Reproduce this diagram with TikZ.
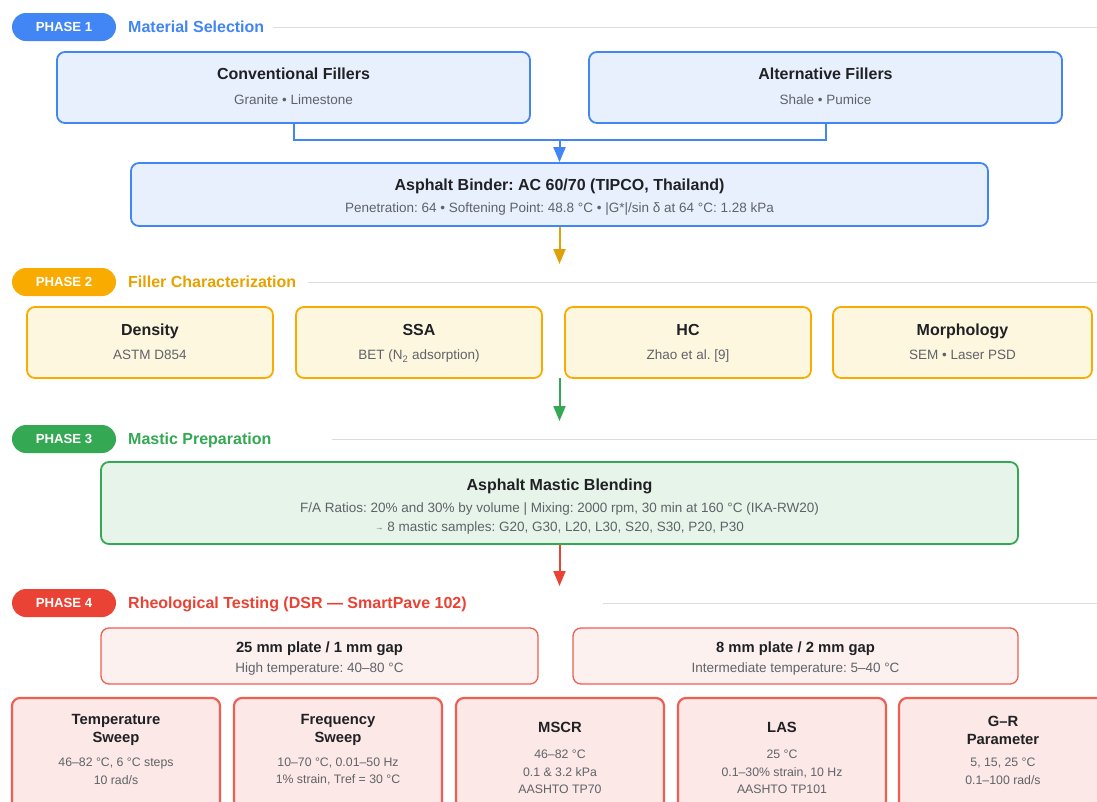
\documentclass[tikz,border=0pt]{standalone}
\usepackage{fontspec}
\setmainfont{Liberation Sans}
\usetikzlibrary{arrows.meta}
\frenchspacing
\definecolor{blueC}{HTML}{4285F4}
\definecolor{blueFill}{HTML}{E8F0FE}
\definecolor{orangeC}{HTML}{F9AB00}
\definecolor{orangeT}{HTML}{E8A200}
\definecolor{orangeA}{HTML}{E0A008}
\definecolor{orangeFill}{HTML}{FEF7E0}
\definecolor{greenC}{HTML}{34A853}
\definecolor{greenFill}{HTML}{E6F4EA}
\definecolor{redC}{HTML}{EA4335}
\definecolor{redFill}{HTML}{FCE8E6}
\definecolor{redFillL}{HTML}{FDF1F0}
\definecolor{darkT}{HTML}{202124}
\definecolor{grayT}{HTML}{5F6368}
\definecolor{ruleC}{HTML}{DADCE0}
\tikzset{
  pill/.style={rounded corners=14pt, minimum width=104pt, minimum height=28pt, inner sep=0pt, text=white, text height=9.5pt, text depth=0pt, font=\bfseries\fontsize{13.2}{15}\selectfont},
  phtitle/.style={anchor=west, inner sep=0pt, text height=11.5pt, text depth=0pt, font=\bfseries\fontsize{16}{19}\selectfont},
  rulel/.style={draw=ruleC, line width=1pt},
  box/.style={draw, rounded corners=8pt, line width=1.8pt, inner sep=0pt},
  ttl/.style={inner sep=0pt, text=darkT, text height=11.5pt, text depth=0pt, font=\bfseries\fontsize{16}{19}\selectfont},
  sub/.style={inner sep=0pt, text=grayT, text height=9.7pt, text depth=0pt, font=\fontsize{13.5}{16}\selectfont},
  ttls/.style={inner sep=0pt, text=darkT, align=center, font=\bfseries\fontsize{14.8}{18}\selectfont},
  subs/.style={inner sep=0pt, text=grayT, align=center, font=\fontsize{12.3}{17.5}\selectfont},
  conn/.style={line width=2pt},
  arr/.style={line width=2pt, -{Triangle[length=15pt,width=12pt]}},
}
\begin{document}
\begin{tikzpicture}[x=1pt,y=-1pt]
\fill[white] (0,0) rectangle (1097,801);
\clip (0,0) rectangle (1097,801);
\useasboundingbox (0,0) rectangle (1097,801);

% ---------- Phase 1
\node[pill, fill=blueC] (p1) at (64,27) {PHASE 1};
\node[phtitle, text=blueC] (t1) at (128,27) {Material Selection};
\coordinate (r1s) at (273,27); \coordinate (r1e) at (1097,27);
\draw[rulel] (r1s) -- (r1e);

\node[box, draw=blueC, fill=blueFill, minimum width=473pt, minimum height=71pt] (conv) at (293.5,87.5) {};
\node[ttl] (convT) at (293.5,74) {Conventional Fillers};
\node[sub] (convS) at (293.5,100) {Granite • Limestone};

\node[box, draw=blueC, fill=blueFill, minimum width=473pt, minimum height=71pt] (alt) at (825.5,87.5) {};
\node[ttl] (altT) at (825.5,74) {Alternative Fillers};
\node[sub] (altS) at (825.5,100) {Shale • Pumice};

\node[box, draw=blueC, fill=blueFill, minimum width=857pt, minimum height=63pt] (binder) at (559.5,194.5) {};
\node[ttl] (binderT) at (559.5,185) {Asphalt Binder: AC 60/70 (TIPCO, Thailand)};
\node[sub] (binderS) at (559.5,208) {Penetration: 64 • Softening Point: 48.8 °C • |G*|/sin δ at 64 °C: 1.28 kPa};

\coordinate (j1) at (559.5,140);
\draw[conn, draw=blueC] (conv.south) |- (j1);
\draw[conn, draw=blueC] (alt.south) |- (j1);
\draw[arr, draw=blueC, fill=blueC] (j1) -- (binder.north);

\coordinate (j2) at (559.5,264);
\draw[arr, draw=orangeA, fill=orangeA] (binder.south) -- (j2);

% ---------- Phase 2
\node[pill, fill=orangeC] (p2) at (64,282) {PHASE 2};
\node[phtitle, text=orangeT] (t2) at (128,282) {Filler Characterization};
\coordinate (r2s) at (308,282); \coordinate (r2e) at (1097,282);
\draw[rulel] (r2s) -- (r2e);

\node[box, draw=orangeC, fill=orangeFill, minimum width=246pt, minimum height=71pt] (dens) at (150,342.5) {};
\node[ttl] (densT) at (150,330) {Density};
\node[sub] (densS) at (150,355) {ASTM D854};

\node[box, draw=orangeC, fill=orangeFill, minimum width=246pt, minimum height=71pt] (ssa) at (419,342.5) {};
\node[ttl] (ssaT) at (419,330) {SSA};
\node[sub] (ssaS) at (419,355) {BET (N\textsubscript{2} adsorption)};

\node[box, draw=orangeC, fill=orangeFill, minimum width=246pt, minimum height=71pt] (hc) at (688,342.5) {};
\node[ttl] (hcT) at (688,330) {HC};
\node[sub] (hcS) at (688,355) {Zhao et al. [9]};

\node[box, draw=orangeC, fill=orangeFill, minimum width=259pt, minimum height=71pt] (morph) at (962.5,342.5) {};
\node[ttl] (morphT) at (962.5,330) {Morphology};
\node[sub] (morphS) at (962.5,355) {SEM • Laser PSD};

\coordinate (j3a) at (559.5,378);
\coordinate (j3b) at (559.5,421);
\draw[arr, draw=greenC, fill=greenC] (j3a) -- (j3b);

% ---------- Phase 3
\node[pill, fill=greenC] (p3) at (64,439) {PHASE 3};
\node[phtitle, text=greenC] (t3) at (128,439) {Mastic Preparation};
\coordinate (r3s) at (332,439); \coordinate (r3e) at (1097,439);
\draw[rulel] (r3s) -- (r3e);

\node[box, draw=greenC, fill=greenFill, minimum width=917pt, minimum height=82pt] (mastic) at (559.5,503) {};
\node[ttl] (masticT) at (559.5,485) {Asphalt Mastic Blending};
\node[sub] (masticS1) at (559.5,508) {F/A Ratios: 20\% and 30\% by volume | Mixing: 2000 rpm, 30 min at 160 °C (IKA-RW20)};
\node[sub] (masticS2) at (559.5,527) {\raisebox{1.5pt}{\fontsize{8.5}{10}\selectfont →} 8 mastic samples: G20, G30, L20, L30, S20, S30, P20, P30};

\coordinate (j4) at (559.5,586);
\draw[arr, draw=redC, fill=redC] (mastic.south) -- (j4);

% ---------- Phase 4
\node[pill, fill=redC] (p4) at (64,603) {PHASE 4};
\node[phtitle, text=redC] (t4) at (128,603) {Rheological Testing (DSR — SmartPave 102)};
\coordinate (r4s) at (603,603); \coordinate (r4e) at (1097,603);
\draw[rulel] (r4s) -- (r4e);

\node[box, line width=1.3pt, draw=redC!85, fill=redFillL, minimum width=437pt, minimum height=56pt] (p25) at (319.5,656) {};
\node[ttl, text height=10.6pt, font=\bfseries\fontsize{14.8}{17}\selectfont] (p25T) at (319.5,647) {25 mm plate / 1 mm gap};
\node[sub] (p25S) at (319.5,668) {High temperature: 40–80 °C};

\node[box, line width=1.3pt, draw=redC!85, fill=redFillL, minimum width=445pt, minimum height=56pt] (p8) at (795.5,656) {};
\node[ttl, text height=10.6pt, font=\bfseries\fontsize{14.8}{17}\selectfont] (p8T) at (795.5,647) {8 mm plate / 2 mm gap};
\node[sub] (p8S) at (795.5,668) {Intermediate temperature: 5–40 °C};

\node[box, line width=2.2pt, draw=redC!85, fill=redFill, minimum width=208pt, minimum height=120pt] (ts) at (116,758) {};
\node[ttls] (tsT) at (116,730) {Temperature\\Sweep};
\node[subs] (tsS) at (116,771.5) {46–82 °C, 6 °C steps\\10 rad/s};

\node[box, line width=2.2pt, draw=redC!85, fill=redFill, minimum width=208pt, minimum height=120pt] (fs) at (338,758) {};
\node[ttls] (fsT) at (338,730) {Frequency\\Sweep};
\node[subs] (fsS) at (338,771.5) {10–70 °C, 0.01–50 Hz\\1\% strain, Tref = 30 °C};

\node[box, line width=2.2pt, draw=redC!85, fill=redFill, minimum width=208pt, minimum height=120pt] (mscr) at (560,758) {};
\node[ttls] (mscrT) at (560,727.5) {MSCR};
\node[subs] (mscrS) at (560,772) {46–82 °C\\0.1 \& 3.2 kPa\\AASHTO TP70};

\node[box, line width=2.2pt, draw=redC!85, fill=redFill, minimum width=208pt, minimum height=120pt] (las) at (782,758) {};
\node[ttls] (lasT) at (782,727.5) {LAS};
\node[subs] (lasS) at (782,772) {25 °C\\0.1–30\% strain, 10 Hz\\AASHTO TP101};

\node[box, line width=2.2pt, draw=redC!85, fill=redFill, minimum width=208pt, minimum height=120pt] (gr) at (1003,758) {};
\node[ttls] (grT) at (1003,730) {G–R\\Parameter};
\node[subs] (grS) at (1003,771.5) {5, 15, 25 °C\\0.1–100 rad/s};
\end{tikzpicture}
\end{document}
